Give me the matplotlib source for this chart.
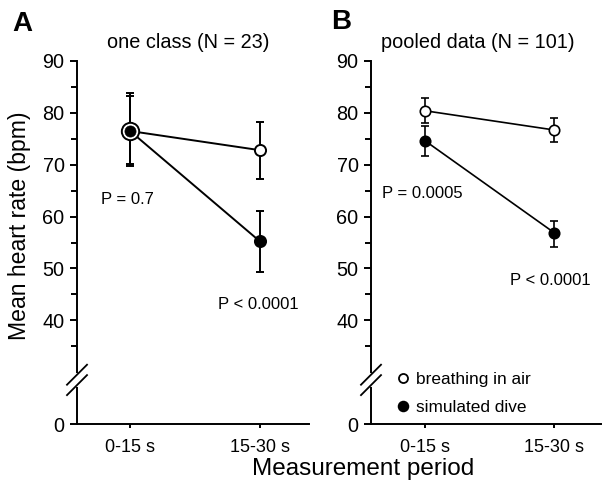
import matplotlib
matplotlib.use("Agg")
import matplotlib.pyplot as plt
from matplotlib.lines import Line2D
import numpy as np

plt.rcParams['font.family'] = ['Liberation Sans', 'DejaVu Sans']

periods = ["0-15 s", "15-30 s"]
# Panel A: one class (N = 23)
a_air = [76.5, 72.8]
a_air_err_lo = [69.8, 67.2]
a_air_err_hi = [83.8, 78.3]
a_dive = [76.5, 55.2]
a_dive_err_lo = [70.2, 49.4]
a_dive_err_hi = [83.2, 61.1]
# Panel B: pooled data (N = 101)
b_air = [80.4, 76.7]
b_air_err_lo = [78.1, 74.3]
b_air_err_hi = [82.8, 79.0]
b_dive = [74.6, 56.9]
b_dive_err_lo = [71.6, 54.2]
b_dive_err_hi = [77.5, 59.2]

ytick_vals = [20, 40, 50, 60, 70, 80, 90]
ytick_labels = ["0", "40", "50", "60", "70", "80", "90"]
yminor = [35, 45, 55, 65, 75, 85]

W, H = 602, 483
fig = plt.figure(figsize=(W / 100, H / 100), dpi=100)

def px_axes(x0, x1, ytop, ybot):
    return fig.add_axes([x0 / W, 1 - ybot / H, (x1 - x0) / W, (ybot - ytop) / H])

axA = px_axes(77, 309, 61, 424)
axB = px_axes(371, 601, 61, 424)

LW = 1.4

def draw_panel(ax, air, air_lo, air_hi, dive, dive_lo, dive_hi, big_first, ms, lw):
    x = np.arange(len(periods))
    ax.plot(x, air, color='black', lw=lw, zorder=2, solid_capstyle='butt')
    ax.plot(x, dive, color='black', lw=lw, zorder=2, solid_capstyle='butt')
    air = np.array(air); dive = np.array(dive)
    ax.errorbar(x, air, yerr=[air - np.array(air_lo), np.array(air_hi) - air],
                fmt='none', ecolor='black', elinewidth=lw, capsize=3, capthick=lw, zorder=3)
    ax.errorbar(x, dive, yerr=[dive - np.array(dive_lo), np.array(dive_hi) - dive],
                fmt='none', ecolor='black', elinewidth=lw, capsize=3, capthick=lw, zorder=3)
    for i in range(len(x)):
        if big_first and i == 0:
            ax.plot(x[i], air[i], 'o', ms=12.5, mfc='white', mec='black', mew=lw, zorder=4)
            ax.plot(x[i], dive[i], 'o', ms=8, mfc='black', mec='black', mew=0.5, zorder=5)
        else:
            ax.plot(x[i], air[i], 'o', ms=ms, mfc='white', mec='black', mew=lw, zorder=4)
            ax.plot(x[i], dive[i], 'o', ms=ms, mfc='black', mec='black', mew=lw, zorder=5)

draw_panel(axA, a_air, a_air_err_lo, a_air_err_hi, a_dive, a_dive_err_lo, a_dive_err_hi, True, 8, LW)
draw_panel(axB, b_air, b_air_err_lo, b_air_err_hi, b_dive, b_dive_err_lo, b_dive_err_hi, False, 7.5, 1.2)

for ax, (xl, xr) in ((axA, (-0.408, 1.377)), (axB, (-0.42, 1.364))):
    ax.set_xlim(xl, xr)
    ax.set_ylim(20, 90)
    ax.spines['top'].set_visible(False)
    ax.spines['right'].set_visible(False)
    ax.spines['left'].set_linewidth(LW)
    ax.spines['bottom'].set_linewidth(LW)
    ax.set_yticks(ytick_vals)
    ax.set_yticklabels(ytick_labels, fontsize=14.3)
    ax.set_yticks(yminor, minor=True)
    ax.set_xticks(range(len(periods)))
    ax.set_xticklabels(periods, fontsize=13)
    ax.tick_params(axis='y', which='major', direction='out', length=5, width=LW, pad=4)
    ax.tick_params(axis='y', which='minor', direction='out', length=4, width=LW)
    ax.tick_params(axis='x', which='major', direction='out', length=3, width=LW, pad=8)
    ax.patch.set_alpha(0)
    # axis break marks
    xl0 = ax.get_xlim()[0]
    fig.canvas.draw()
    inv = fig.transFigure.inverted()
    def to_fig(xpx, ypx):
        return inv.transform((xpx, ypx))
    sx, sy1 = ax.transData.transform((xl0, 29.5))
    _, sy2 = ax.transData.transform((xl0, 27.5))
    p0 = to_fig(sx, sy1); p1 = to_fig(sx, sy2)
    fig.add_artist(Line2D([p0[0], p1[0]], [p0[1], p1[1]], color='white', lw=LW * 2, zorder=10))
    for syc in (sy1, sy2):
        a = to_fig(sx - 10, syc - 10); b = to_fig(sx + 10, syc + 10)
        fig.add_artist(Line2D([a[0], b[0]], [a[1], b[1]], color='black', lw=1.3, zorder=11))

PFS = 12
axA.text(-0.02, 63.2, "P = 0.7", fontsize=PFS, ha='center', va='center')
axA.text(0.99, 43.1, "P < 0.0001", fontsize=PFS, ha='center', va='center')
axB.text(-0.02, 64.5, "P = 0.0005", fontsize=PFS, ha='center', va='center')
axB.text(0.97, 47.6, "P < 0.0001", fontsize=PFS, ha='center', va='center')

fig.text(188 / W, 1 - 43 / H, "one class (N = 23)", fontsize=14.3, ha='center', va='center')
fig.text(478 / W, 1 - 43 / H, "pooled data (N = 101)", fontsize=14.3, ha='center', va='center')
fig.text(22 / W, 1 - 24 / H, "A", fontsize=20, fontweight='bold', ha='center', va='center')
fig.text(341 / W, 1 - 22 / H, "B", fontsize=20, fontweight='bold', ha='center', va='center')
fig.text(20 / W, 1 - 226 / H, "Mean heart rate (bpm)", fontsize=16.6, rotation=90, ha='center', va='center')
fig.text(252 / W, 1 - 469 / H, "Measurement period", fontsize=17.5, ha='left', va='center')

handles = [Line2D([], [], ls='none', marker='o', ms=6.5, mfc='white', mec='black', mew=1.3),
           Line2D([], [], ls='none', marker='o', ms=7, mfc='black', mec='black', mew=1.3)]
axB.legend(handles, ["breathing in air", "simulated dive"], loc='lower left',
           bbox_to_anchor=(0.05, -0.012), frameon=False, fontsize=12.4, handlelength=0.8,
           handletextpad=0.35, labelspacing=0.7, borderpad=0.3)

fig.savefig("out.png", dpi=100)
